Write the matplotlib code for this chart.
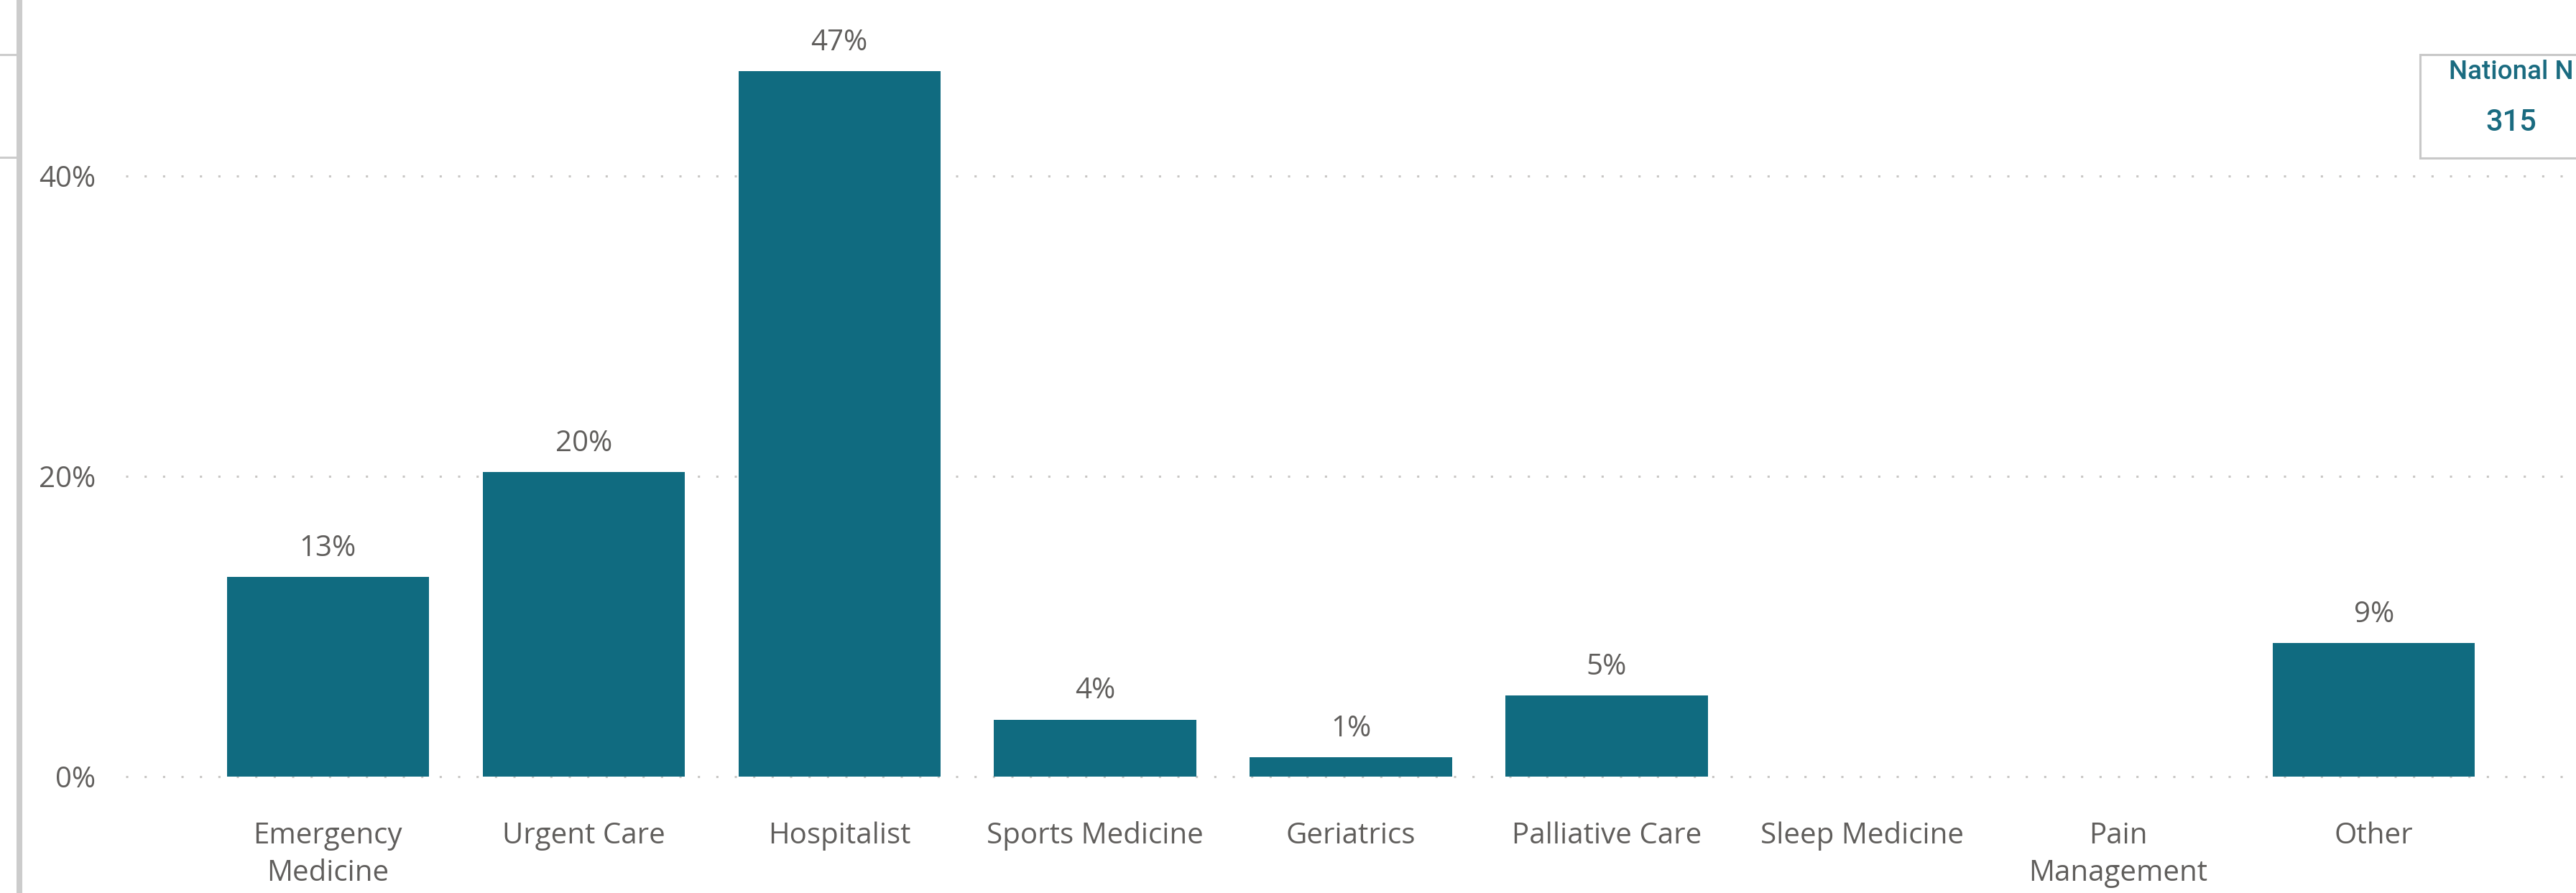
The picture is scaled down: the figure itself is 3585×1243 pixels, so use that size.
import matplotlib
matplotlib.use("Agg")
import matplotlib.pyplot as plt
from matplotlib.lines import Line2D
from matplotlib.patches import Rectangle

# data (share of 315 respondents)
categories = ["Emergency\nMedicine", "Urgent Care", "Hospitalist", "Sports Medicine",
              "Geriatrics", "Palliative Care", "Sleep Medicine", "Pain\nManagement", "Other"]
shares = [13.3, 20.3, 47.0, 3.8, 1.3, 5.4, 0.0, 0.0, 8.9]
value_labels = ["13%", "20%", "47%", "4%", "1%", "5%", "", "", "9%"]
y_ticks = [0, 20, 40]
y_tick_labels = ["0%", "20%", "40%"]
card_title = "National N"
card_value = "315"

BAR = "#106B80"
TXT = "#605E5C"
GRID = "#C8C6C4"
W, H = 3585, 1243

plt.rcParams["font.family"] = ["Open Sans", "DejaVu Sans"]

fig = plt.figure(figsize=(W / 100, H / 100), dpi=100)
fig.patch.set_facecolor("white")

# axes: left edge at x=175px, zero line at y=1081px, top at figure top
ax = fig.add_axes([175 / W, 1 - 1081 / H, 1 - 175 / W, 1081 / H])
px_per_pct = (1081 - 245) / 40
ax.set_ylim(0, 1081 / px_per_pct)
ax.set_xlim(-0.79, 8.79)

x = list(range(len(categories)))
ax.bar(x, shares, width=0.79, color=BAR, zorder=3)

for xi, v, lab in zip(x, shares, value_labels):
    if lab:
        ax.annotate(lab, (xi, v), xytext=(0, 21), textcoords="offset points",
                    ha="center", va="baseline", fontsize=29, color=TXT)

ax.set_yticks(y_ticks)
ax.set_yticklabels(y_tick_labels)
ax.set_xticks(x)
ax.set_xticklabels(categories, linespacing=1.38)
ax.tick_params(axis="y", length=0, pad=30, labelsize=29, labelcolor=TXT)
ax.tick_params(axis="x", length=0, pad=45, labelsize=29, labelcolor=TXT)
for s in ax.spines.values():
    s.set_visible(False)

ax.grid(axis="y", color=GRID, linewidth=2.2, linestyle=(0, (1, 7.4)))
ax.set_axisbelow(True)
for gl in ax.yaxis.get_gridlines():
    gl.set_clip_on(False)

# left edge frame pieces
fig.add_artist(Line2D([27 / W, 27 / W], [0, 1], transform=fig.transFigure,
                      color="#CCCCCC", linewidth=5.8))
for yy in (76, 219):
    fig.add_artist(Line2D([0, 23 / W], [1 - yy / H, 1 - yy / H], transform=fig.transFigure,
                          color="#CCCCCC", linewidth=2.2))

# card in the top-right corner
fig.add_artist(Rectangle((3368 / W, 1 - 220 / H), 300 / W, 144 / H, transform=fig.transFigure,
                         facecolor="white", edgecolor="#C8C8C8", linewidth=2.2, zorder=5))
fig.text(3408 / W, 1 - 101 / H, card_title, ha="left", va="center", fontsize=26.5,
         color="#1A6B80", family="Roboto", fontweight="medium", zorder=6)
fig.text(3495 / W, 1 - 170 / H, card_value, ha="center", va="center", fontsize=30,
         color="#1A6B80", family="Roboto", fontweight="medium", zorder=6)

fig.savefig("out.png", dpi=100, facecolor="white")
